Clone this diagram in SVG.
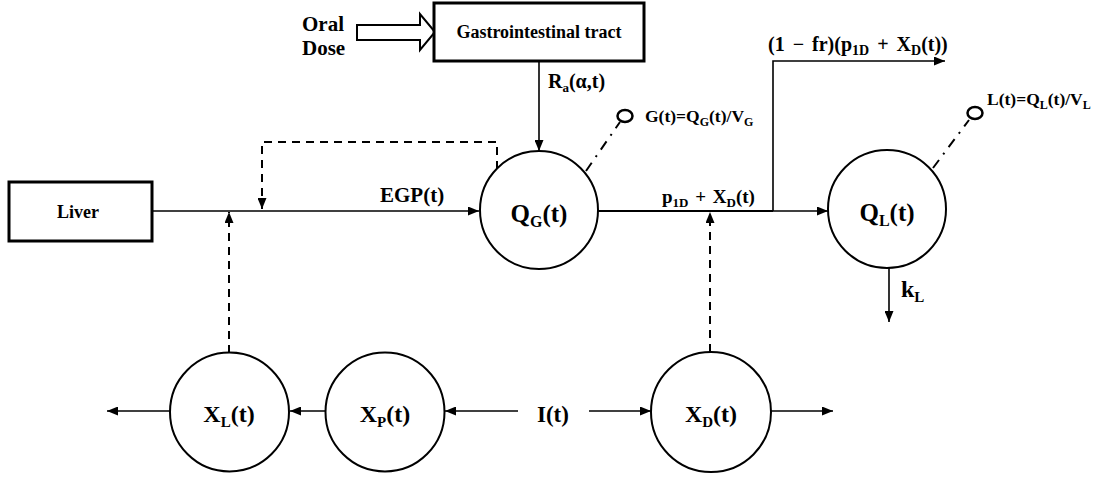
<svg xmlns="http://www.w3.org/2000/svg" width="1104" height="478" viewBox="0 0 1104 478" font-family="'Liberation Serif', 'DejaVu Serif', serif" font-weight="bold">
<style>
text{font-family:'Liberation Serif','DejaVu Serif',serif;font-weight:bold;fill:#000}
.box{fill:#fff;stroke:#000;stroke-width:3}
.node{fill:#fff;stroke:#000;stroke-width:2}
.ln{fill:none;stroke:#000;stroke-width:1.6}
.dash{fill:none;stroke:#000;stroke-width:2;stroke-dasharray:8 6}
.dd{fill:none;stroke:#000;stroke-width:2;stroke-dasharray:10 7 2 7}
.probe{fill:#fff;stroke:#000;stroke-width:2.5}
</style>
<defs>
<marker id="ah" markerWidth="11" markerHeight="9" refX="11" refY="4.5" orient="auto" markerUnits="userSpaceOnUse"><path d="M0,0 L11,4.5 L0,9 z" fill="#000"/></marker>
</defs>
<g id="connectors">
<line class="ln" x1="539" y1="61" x2="539" y2="151" marker-end="url(#ah)"/>
<line class="ln" x1="152" y1="211" x2="479" y2="211" marker-end="url(#ah)"/>
<path class="dash" d="M497,169 V142 H262 V209" marker-end="url(#ah)"/>
<line class="dash" x1="229" y1="353" x2="229" y2="212" marker-end="url(#ah)"/>
<line class="ln" x1="598" y1="211" x2="828" y2="211" marker-end="url(#ah)"/>
<line x1="598" y1="211" x2="773" y2="211" stroke="#000" stroke-width="2.2"/>
<path class="ln" d="M773,211 V61 H945" marker-end="url(#ah)"/>
<line class="dash" x1="710" y1="352" x2="710" y2="212" marker-end="url(#ah)"/>
<line class="ln" x1="889" y1="267" x2="889" y2="322" marker-end="url(#ah)"/>
<line class="ln" x1="170" y1="411" x2="107" y2="411" marker-end="url(#ah)"/>
<line class="ln" x1="325" y1="411" x2="290" y2="411" marker-end="url(#ah)"/>
<line class="ln" x1="518" y1="411" x2="445" y2="411" marker-end="url(#ah)"/>
<line class="ln" x1="589" y1="411" x2="651" y2="411" marker-end="url(#ah)"/>
<line class="ln" x1="771" y1="411" x2="833" y2="411" marker-end="url(#ah)"/>
<line class="dd" x1="586" y1="171" x2="620" y2="122"/>
<line class="dd" x1="933" y1="168" x2="969" y2="120"/>
<polygon points="357,25 420,25 420,14 435,32 420,50 420,40 357,40" fill="#fff" stroke="#000" stroke-width="2"/>
</g>
<g id="oral-dose">
<text x="302" y="31" font-size="21">Oral</text>
<text x="302" y="55" font-size="21">Dose</text>
</g>
<g id="gi-tract">
<rect class="box" x="434" y="3" width="210" height="58"/>
<text x="539" y="38" font-size="18" text-anchor="middle">Gastrointestinal tract</text>
</g>
<g id="liver">
<rect class="box" x="9" y="182" width="143" height="59"/>
<text x="78" y="218" font-size="18" text-anchor="middle">Liver</text>
</g>
<g id="labels">
<text x="548" y="88" font-size="20">R<tspan font-size="13" dy="4">a</tspan><tspan dy="-4">(α,t)</tspan></text>
<text x="380" y="202" font-size="21">EGP(t)</text>
<text x="662" y="203" font-size="19" word-spacing="2">p<tspan font-size="13" dy="4">1D</tspan><tspan dy="-4"> + X</tspan><tspan font-size="13" dy="4">D</tspan><tspan dy="-4">(t)</tspan></text>
<text x="768" y="51" font-size="20" word-spacing="3">(1 − fr)(p<tspan font-size="14" dy="4">1D</tspan><tspan dy="-4"> + X</tspan><tspan font-size="14" dy="4">D</tspan><tspan dy="-4">(t))</tspan></text>
<text x="901" y="297" font-size="24">k<tspan font-size="15" dy="5">L</tspan></text>
<text x="537" y="422" font-size="23">I(t)</text>
</g>
<g id="QG">
<circle class="node" cx="539" cy="210" r="59"/>
<text x="539" y="222" font-size="25" text-anchor="middle">Q<tspan font-size="16" dy="5">G</tspan><tspan dy="-5">(t)</tspan></text>
</g>
<g id="G-probe">
<ellipse class="probe" cx="625" cy="116" rx="7.5" ry="6"/>
<text x="645" y="122" font-size="17.5">G(t)=Q<tspan font-size="12" dy="4">G</tspan><tspan dy="-4">(t)/V</tspan><tspan font-size="12" dy="4">G</tspan></text>
</g>
<g id="QL">
<circle class="node" cx="887" cy="209" r="59"/>
<text x="887" y="221" font-size="25" text-anchor="middle">Q<tspan font-size="16" dy="5">L</tspan><tspan dy="-5">(t)</tspan></text>
</g>
<g id="L-probe">
<ellipse class="probe" cx="975" cy="113" rx="7.5" ry="6"/>
<text x="987" y="105" font-size="17.5">L(t)=Q<tspan font-size="12" dy="4">L</tspan><tspan dy="-4">(t)/V</tspan><tspan font-size="12" dy="4">L</tspan></text>
</g>
<g id="XL">
<circle class="node" cx="229.5" cy="412" r="59.5"/>
<text x="229" y="422" font-size="24" text-anchor="middle">X<tspan font-size="15" dy="5">L</tspan><tspan dy="-5">(t)</tspan></text>
</g>
<g id="XP">
<circle class="node" cx="385" cy="412" r="59.5"/>
<text x="385" y="422" font-size="24" text-anchor="middle">X<tspan font-size="15" dy="5">P</tspan><tspan dy="-5">(t)</tspan></text>
</g>
<g id="XD">
<circle class="node" cx="711" cy="412" r="60"/>
<text x="711" y="422" font-size="24" text-anchor="middle">X<tspan font-size="15" dy="5">D</tspan><tspan dy="-5">(t)</tspan></text>
</g>
</svg>
